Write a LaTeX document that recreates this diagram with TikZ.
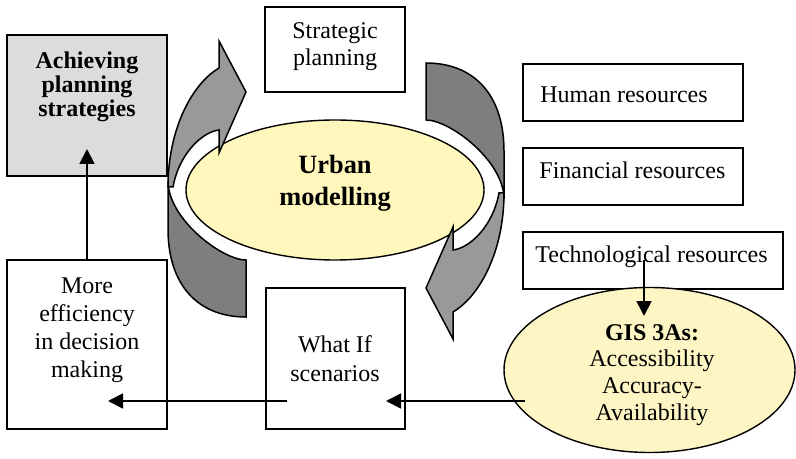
\documentclass[tikz,border=0pt]{standalone}
\usepackage{fontspec}
\setmainfont{Liberation Serif}
\usetikzlibrary{shapes.geometric,arrows.meta}

\definecolor{bandlight}{RGB}{153,153,153}
\definecolor{banddark}{RGB}{126,126,126}
\definecolor{boxgray}{RGB}{220,220,220}
\definecolor{urbanfill}{RGB}{255,247,188}
\definecolor{gisfill}{RGB}{253,245,196}

\tikzset{
  box/.style={draw, line width=1pt, inner sep=0pt},
  oval/.style={ellipse, draw, line width=0.7pt, inner sep=0pt},
  txt/.style={align=center, inner sep=0pt, font=\fontsize{12}{13.9}\selectfont},
  conn/.style={line width=0.9pt, -{Triangle[length=7.5pt,width=7.5pt]}},
  band/.style={line width=0.75pt, line join=miter},
  % curved cycle arrow: dark back band below, light head band above
  loop arrow/.pic={
    \draw[band, fill=banddark]
      (39,81) -- (39,138) .. controls (-10,138) and (-39,105) .. (-39,50)
      -- (-39,2) .. controls (-39,40) and (15,81) .. (39,81) -- cycle;
    \draw[band, fill=bandlight]
      (-39,8) .. controls (-39,-50) and (-15,-95) .. (12,-111)
      -- (12,-138) -- (39,-87) -- (12,-26) -- (12,-49)
      .. controls (-5,-47) and (-28,-25) .. (-34,8) -- cycle;
  }
}

\begin{document}
\begin{tikzpicture}[x=0.5pt, y=-0.5pt]
\useasboundingbox (0,0) rectangle (796,459);

% central model
\node[oval, fill=urbanfill, minimum width=149pt, minimum height=70pt] (urban) at (335,190) {};
\node[txt, anchor=north, font=\fontsize{13.2}{16}\selectfont\bfseries] (urbanT) at (335,155) {Urban\\modelling};

% cycle arrows around the model
\pic at (207,179) {loop arrow};
\pic[rotate=180] at (465,201) {loop arrow};

% boxes
\node[box, fill=boxgray, minimum width=80pt, minimum height=70.5pt] (ach) at (87,105.5) {};
\node[txt, anchor=north, font=\fontsize{12}{12}\selectfont\bfseries] (achT) at (87,51.5) {Achieving\\planning\\strategies};

\node[box, minimum width=80pt, minimum height=84.5pt] (more) at (87,344.5) {};
\node[txt, anchor=north] (moreT) at (87,277.5) {More\\efficiency\\in decision\\making};

\node[box, minimum width=69.5pt, minimum height=70.5pt] (wi) at (335.5,358.5) {};
\node[txt, anchor=north, font=\fontsize{12}{14.1}\selectfont] (wiT) at (335,335.5) {What If\\scenarios};

\node[box, minimum width=70pt, minimum height=42.5pt] (strat) at (335,49.5) {};
\node[txt, anchor=north, font=\fontsize{12}{13.5}\selectfont] (stratT) at (335,22) {Strategic\\planning};

% resources
\node[box, minimum width=110pt, minimum height=28.5pt] (human) at (633,92.5) {};
\node[txt, anchor=base west] (humanT) at (540,103) {Human resources};
\node[box, minimum width=110pt, minimum height=28.5pt] (fin) at (633,176.5) {};
\node[txt, anchor=base west] (finT) at (539,179) {Financial resources};
\node[box, minimum width=130pt, minimum height=28.5pt] (tech) at (653,260.5) {};
\node[txt, anchor=base west] (techT) at (535,263) {Technological resources};

% GIS ellipse
\node[oval, fill=gisfill, minimum width=145.5pt, minimum height=82.5pt] (gis) at (649.5,370) {};
\node[txt, anchor=north, font=\fontsize{12}{13.35}\selectfont] (gisT) at (652,324) {\textbf{GIS 3As:}\\Accessibility\\Accuracy-\\Availability};

% connector end points
\coordinate (techOut) at (644,260);
\coordinate (gisIn) at (644,316);
\coordinate (gisOut) at (525,401);
\coordinate (wiIn) at (386,401);
\coordinate (wiOut) at (287,401);
\coordinate (moreIn) at (108,401);
\coordinate (achIn) at (87,149);

% connectors
\draw[conn] (techOut) -- (gisIn);
\draw[conn] (gisOut) -- (wiIn);
\draw[conn] (wiOut) -- (moreIn);
\draw[conn] (more.north) -- (achIn);
\end{tikzpicture}
\end{document}
